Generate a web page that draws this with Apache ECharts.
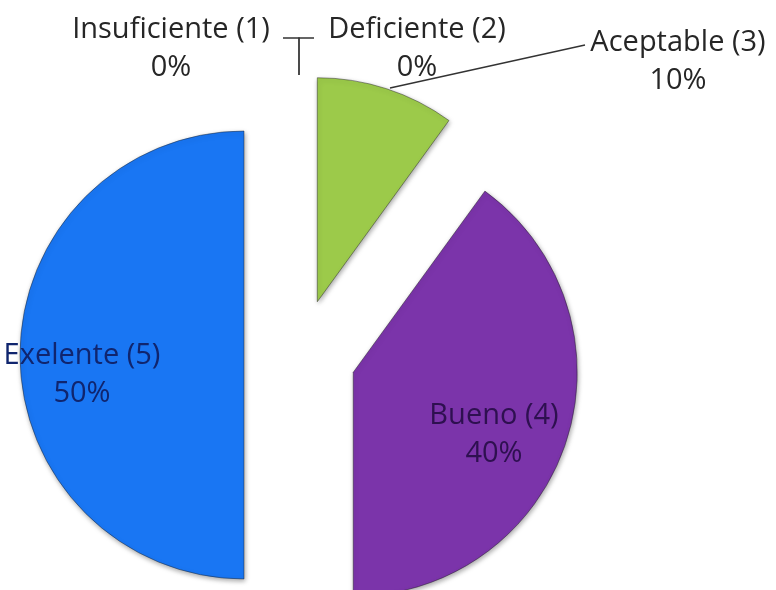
<!DOCTYPE html>
<html>
<head>
<meta charset="utf-8">
<script src="https://cdn.jsdelivr.net/npm/echarts@6/dist/echarts.min.js"></script>
<style>html,body{margin:0;padding:0;background:#fff}#c{width:776px;height:590px}</style>
</head>
<body>
<div id="c"></div>
<script>
var categories = ['Insuficiente (1)', 'Deficiente (2)', 'Aceptable (3)', 'Bueno (4)', 'Exelente (5)'];
var values = [0, 0, 10, 40, 50];
var colors = ['#4f81bd', '#c0504d', '#9cca4a', '#7b34aa', '#1976f3'];
var labelColors = ['#262626', '#262626', '#262626', '#2e1050', '#10256e'];

var OFFSET = 56;
// target label centres and leader lines (page coordinates)
var labelPos = [
  {x: 171, y: 49, line: [[299, 75], [299, 38], [283, 38]]},
  {x: 417, y: 49, line: [[299, 75], [299, 38], [314, 38]]},
  {x: 678, y: 62, line: [[390, 88], [585, 45]]},
  {x: 494, y: 435, line: null},
  {x: 82, y: 375, line: null}
];

// explosion vector of each slice (from the values, clockwise from 12 o'clock)
var total = values.reduce(function (a, b) { return a + b; }, 0);
var shifts = [];
(function () {
  var cum = 0;
  values.forEach(function (v) {
    var a = (cum + v / 2) / total * Math.PI * 2;
    shifts.push([OFFSET * Math.sin(a), -OFFSET * Math.cos(a)]);
    cum += v;
  });
})();

var chart = echarts.init(document.getElementById('c'), null, {renderer: 'canvas'});
var data = categories.map(function (c, i) {
  var zero = values[i] === 0;
  return {
    name: c,
    value: values[i],
    selected: true,
    itemStyle: zero ? {color: 'rgba(0,0,0,0)', borderWidth: 0, shadowBlur: 0, shadowColor: 'rgba(0,0,0,0)'} : {color: colors[i]},
    label: {color: labelColors[i], position: labelPos[i].line ? 'outside' : 'inside'},
    labelLine: {show: !!labelPos[i].line}
  };
});
chart.setOption({
  animation: false,
  series: [{
    type: 'pie',
    center: [300, 355],
    radius: [0, 224],
    startAngle: 90,
    clockwise: true,
    selectedMode: 'multiple',
    selectedOffset: OFFSET,
    avoidLabelOverlap: false,
    emphasis: {disabled: true},
    itemStyle: {
      borderColor: 'rgba(30,30,30,0.45)',
      borderWidth: 1,
      shadowBlur: 5,
      shadowColor: 'rgba(0,0,0,0.35)',
      shadowOffsetX: 1,
      shadowOffsetY: 2
    },
    label: {
      show: true,
      formatter: function (p) { return '{t|' + p.name + '}\n{t|' + Math.round(p.percent) + '%}'; },
      rich: {t: {width: 200, align: 'center', fontFamily: 'Open Sans', fontSize: 29, lineHeight: 38}},
      fontFamily: 'Open Sans',
      fontSize: 29,
      lineHeight: 38
    },
    labelLine: {
      show: true,
      lineStyle: {color: '#333', width: 1.3}
    },
    labelLayout: function (p) {
      var i = p.dataIndex;
      var lp = labelPos[i];
      var s = shifts[i];
      var r = p.labelRect;
      var o = {
        dx: lp.x - (r.x + r.width / 2 + s[0]),
        dy: lp.y - (r.y + r.height / 2 + s[1])
      };
      if (lp.line) {
        o.labelLinePoints = lp.line.map(function (pt) { return [pt[0] - s[0], pt[1] - s[1]]; });
      }
      return o;
    },
    data: data
  }]
});
</script>
</body>
</html>
